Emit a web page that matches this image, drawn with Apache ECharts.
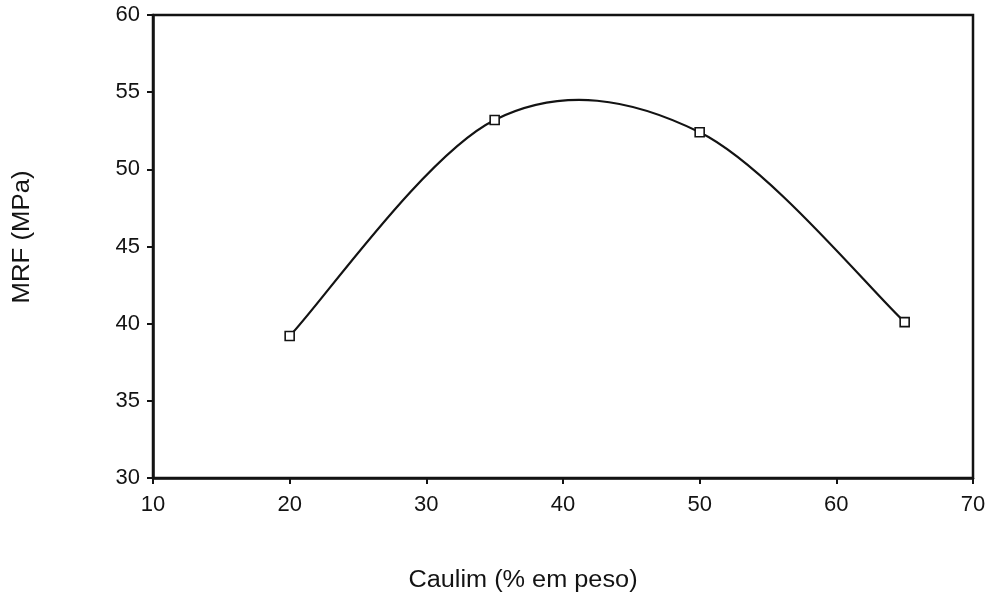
<!DOCTYPE html>
<html>
<head>
<meta charset="utf-8">
<script src="https://cdn.jsdelivr.net/npm/echarts@6/dist/echarts.min.js"></script>
<style>
  html, body { margin: 0; padding: 0; background: #fff; }
  #chart { width: 992px; height: 595px; }
</style>
</head>
<body>
<div id="chart"></div>
<script>
// Kaolin content (wt %) against modulus of rupture (MPa)
const caulim = [20, 35, 50, 65];
const mrf = [39.2, 53.2, 52.4, 40.1];

const xAxisName = 'Caulim (% em peso)';
const yAxisName = 'MRF (MPa)';

const FONT = "'Liberation Sans', Arial, sans-serif";
const INK = '#131313';

const chart = echarts.init(document.getElementById('chart'), null, { renderer: 'canvas' });

// Cardinal (Catmull-Rom) curve segment from point i to point i+1,
// positioned through the axis scales with api.coord.
function renderCurveSegment(params, api) {
  const i = params.dataIndex;
  const n = caulim.length;
  if (i >= n - 1) return null;
  const pt = (k) => {
    const j = Math.max(0, Math.min(n - 1, k));
    return api.coord([caulim[j], mrf[j]]);
  };
  const p0 = pt(i - 1), p1 = pt(i), p2 = pt(i + 1), p3 = pt(i + 2);
  const t = 1 / 6;
  return {
    type: 'bezierCurve',
    shape: {
      x1: p1[0], y1: p1[1],
      cpx1: p1[0] + (p2[0] - p0[0]) * t, cpy1: p1[1] + (p2[1] - p0[1]) * t,
      cpx2: p2[0] - (p3[0] - p1[0]) * t, cpy2: p2[1] - (p3[1] - p1[1]) * t,
      x2: p2[0], y2: p2[1]
    },
    style: { stroke: INK, lineWidth: 2.2, fill: null }
  };
}

chart.setOption({
  backgroundColor: '#ffffff',
  animation: false,
  grid: {
    left: 153, right: 19, top: 15, bottom: 117,
    show: true,
    borderColor: INK,
    borderWidth: 2.5,
    backgroundColor: 'transparent'
  },
  xAxis: {
    type: 'value',
    min: 10, max: 70, interval: 10,
    axisLine: { show: true, onZero: false, lineStyle: { color: INK, width: 2.5 } },
    axisTick: { show: true, inside: false, length: 6, lineStyle: { color: INK, width: 2 } },
    axisLabel: { color: INK, fontFamily: FONT, fontSize: 22, margin: 16 },
    splitLine: { show: false }
  },
  yAxis: {
    type: 'value',
    min: 30, max: 60, interval: 5,
    axisLine: { show: true, onZero: false, lineStyle: { color: INK, width: 2.5 } },
    axisTick: { show: true, inside: false, length: 6, lineStyle: { color: INK, width: 2 } },
    axisLabel: { color: INK, fontFamily: FONT, fontSize: 22, margin: 13 },
    splitLine: { show: false }
  },
  graphic: [
    {
      type: 'text',
      x: 523, y: 581,
      scaleX: 1.1,
      style: {
        text: xAxisName,
        fill: INK,
        font: '23px ' + FONT,
        align: 'center',
        verticalAlign: 'middle'
      }
    },
    {
      type: 'text',
      x: 23, y: 237,
      rotation: Math.PI / 2,
      scaleX: 1.12,
      style: {
        text: yAxisName,
        fill: INK,
        font: '23px ' + FONT,
        align: 'center',
        verticalAlign: 'middle'
      }
    }
  ],
  series: [
    {
      type: 'custom',
      data: caulim.map((x, i) => [x, mrf[i]]),
      renderItem: renderCurveSegment,
      z: 2
    },
    {
      type: 'scatter',
      data: caulim.map((x, i) => [x, mrf[i]]),
      symbol: 'rect',
      symbolSize: 9,
      itemStyle: { color: '#ffffff', borderColor: INK, borderWidth: 1.6, opacity: 1 },
      z: 3
    }
  ]
});
</script>
</body>
</html>
